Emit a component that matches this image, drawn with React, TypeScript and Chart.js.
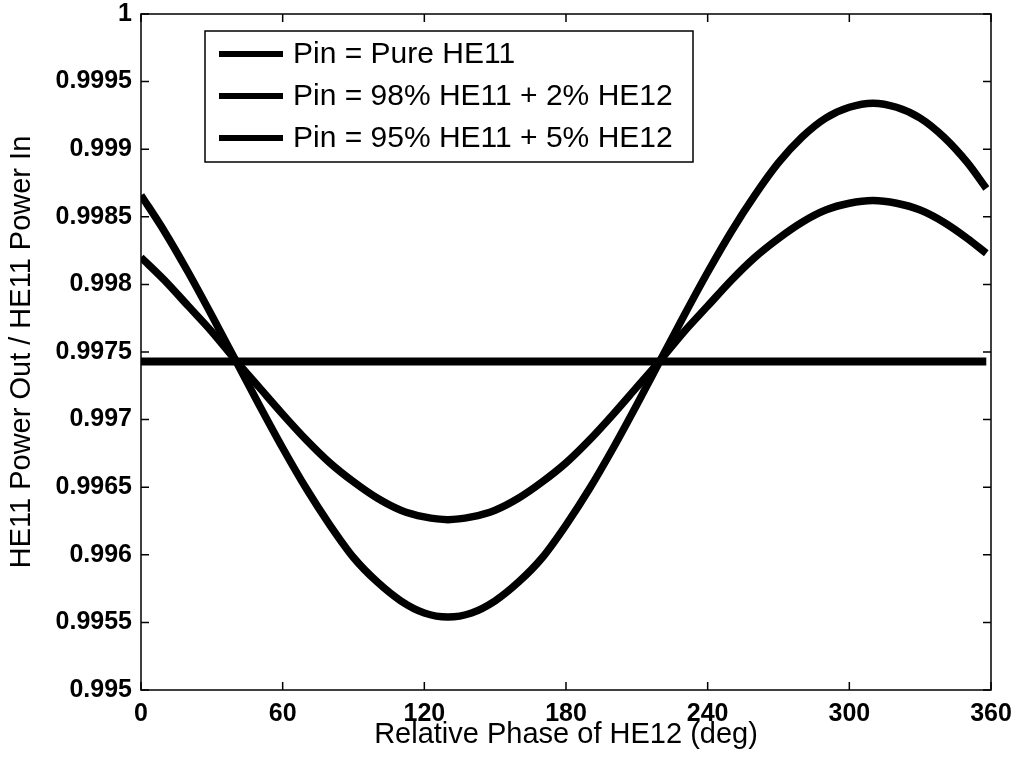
import React, { useEffect, useRef } from "react";
import { Chart, registerables } from "chart.js";

Chart.register(...registerables);

const phases = [0, 10, 20, 30, 40, 50, 60, 70, 80, 90, 100, 110, 120, 130, 140, 150, 160, 170, 180, 190, 200, 210, 220, 230, 240, 250, 260, 270, 280, 290, 300, 310, 320, 330, 340, 350, 358];

const pureHE11 = [0.99743, 0.99743, 0.99743, 0.99743, 0.99743, 0.99743, 0.99743, 0.99743, 0.99743, 0.99743, 0.99743, 0.99743, 0.99743, 0.99743, 0.99743, 0.99743, 0.99743, 0.99743, 0.99743, 0.99743, 0.99743, 0.99743, 0.99743, 0.99743, 0.99743, 0.99743, 0.99743, 0.99743, 0.99743, 0.99743, 0.99743, 0.99743, 0.99743, 0.99743, 0.99743, 0.99743, 0.99743];

const mix98 = [0.99820, 0.99803, 0.99784, 0.99765, 0.99744, 0.99724, 0.99704, 0.99685, 0.99668, 0.99654, 0.99642, 0.99633, 0.99628, 0.99626, 0.99628, 0.99633, 0.99642, 0.99654, 0.99668, 0.99685, 0.99704, 0.99724, 0.99744, 0.99765, 0.99784, 0.99803, 0.99820, 0.99834, 0.99846, 0.99855, 0.99860, 0.99862, 0.99860, 0.99855, 0.99846, 0.99834, 0.99823];

const mix95 = [0.99866, 0.99839, 0.99809, 0.99777, 0.99744, 0.99711, 0.99679, 0.99649, 0.99622, 0.99598, 0.99580, 0.99566, 0.99557, 0.99554, 0.99557, 0.99566, 0.99580, 0.99598, 0.99622, 0.99649, 0.99679, 0.99711, 0.99744, 0.99777, 0.99809, 0.99839, 0.99866, 0.99890, 0.99909, 0.99923, 0.99931, 0.99934, 0.99931, 0.99923, 0.99909, 0.99890, 0.99871];

const seriesLabels = ["Pin = Pure HE11", "Pin = 98% HE11 + 2% HE12", "Pin = 95% HE11 + 5% HE12"];
const seriesValues = [pureHE11, mix98, mix95];
const seriesWidths = [8, 7.5, 7.5];

const xTitle = "Relative Phase of HE12 (deg)";
const yTitle = "HE11 Power Out / HE11 Power In";

const FONT = "'Liberation Sans', Arial, Helvetica, sans-serif";

const frameAndTicks = {
  id: "frameAndTicks",
  afterDraw(chart: any) {
    const { ctx, chartArea: a, scales } = chart;
    const len = 8;
    ctx.save();
    ctx.strokeStyle = "#000";
    ctx.lineWidth = 1.5;
    ctx.strokeRect(a.left, a.top, a.right - a.left, a.bottom - a.top);
    ctx.beginPath();
    scales.x.ticks.forEach((t: any) => {
      const px = scales.x.getPixelForValue(t.value);
      ctx.moveTo(px, a.bottom);
      ctx.lineTo(px, a.bottom - len);
      ctx.moveTo(px, a.top);
      ctx.lineTo(px, a.top + len);
    });
    scales.y.ticks.forEach((t: any) => {
      const py = scales.y.getPixelForValue(t.value);
      ctx.moveTo(a.left, py);
      ctx.lineTo(a.left + len, py);
      ctx.moveTo(a.right, py);
      ctx.lineTo(a.right - len, py);
    });
    ctx.stroke();

    // legend box
    const bx = a.left + 64;
    const by = a.top + 17;
    const bw = 488;
    const bh = 131;
    ctx.fillStyle = "#fff";
    ctx.fillRect(bx, by, bw, bh);
    ctx.lineWidth = 1.5;
    ctx.strokeRect(bx, by, bw, bh);
    ctx.font = `30px ${FONT}`;
    ctx.textBaseline = "middle";
    ctx.textAlign = "left";
    chart.data.datasets.forEach((ds: any, i: number) => {
      const cy = by + 23 + i * 42;
      ctx.strokeStyle = ds.borderColor;
      ctx.lineWidth = 6;
      ctx.beginPath();
      ctx.moveTo(bx + 14, cy);
      ctx.lineTo(bx + 78, cy);
      ctx.stroke();
      ctx.fillStyle = "#000";
      ctx.fillText(ds.label, bx + 88, cy + 1);
    });
    ctx.restore();
  },
};

const noAutoPadding = (s: any) => {
  s.paddingTop = 0;
  s.paddingBottom = 0;
  s.paddingLeft = 0;
  s.paddingRight = 0;
};

export default function App() {
  const ref = useRef<HTMLCanvasElement>(null);
  useEffect(() => {
    if (!ref.current) return;
    const chart = new Chart(ref.current, {
      type: "line",
      data: {
        datasets: seriesValues.map((vals, i) => ({
          label: seriesLabels[i],
          data: phases.map((p, j) => ({ x: p, y: vals[j] })),
          borderColor: "#000",
          backgroundColor: "#000",
          borderWidth: seriesWidths[i],
          pointRadius: 0,
          cubicInterpolationMode: "monotone" as const,
          fill: false,
        })),
      },
      options: {
        responsive: false,
        animation: false,
        layout: { padding: { top: 14, right: 28, left: 0, bottom: 0 } },
        plugins: { legend: { display: false }, tooltip: { enabled: false } },
        scales: {
          x: {
            type: "linear",
            min: 0,
            max: 360,
            afterFit: (s: any) => {
              s.height = 73;
              noAutoPadding(s);
            },
            grid: { display: false, drawTicks: false },
            border: { display: false },
            ticks: {
              stepSize: 60,
              padding: 9,
              color: "#000",
              font: { family: FONT, size: 25, weight: "bold" },
              maxRotation: 0,
            },
            title: {
              display: true,
              text: xTitle,
              color: "#000",
              font: { family: FONT, size: 29 },
              padding: { top: 0, bottom: 11 },
            },
          },
          y: {
            type: "linear",
            min: 0.995,
            max: 1,
            afterFit: (s: any) => {
              s.width = 141;
              noAutoPadding(s);
            },
            grid: { display: false, drawTicks: false },
            border: { display: false },
            ticks: {
              stepSize: 0.0005,
              padding: 9,
              color: "#000",
              font: { family: FONT, size: 25, weight: "bold" },
              callback: (v: any) => String(Number(Number(v).toFixed(4))),
            },
            title: {
              display: true,
              text: yTitle,
              color: "#000",
              font: { family: FONT, size: 29 },
              padding: { top: 5, bottom: 0 },
            },
          },
        },
      },
      plugins: [frameAndTicks],
    });
    return () => chart.destroy();
  }, []);
  return (
    <div style={{ position: "absolute", left: 0, top: 0, width: 1019, height: 763, background: "#fff" }}>
      <canvas ref={ref} width={1019} height={763} style={{ display: "block" }} />
    </div>
  );
}
